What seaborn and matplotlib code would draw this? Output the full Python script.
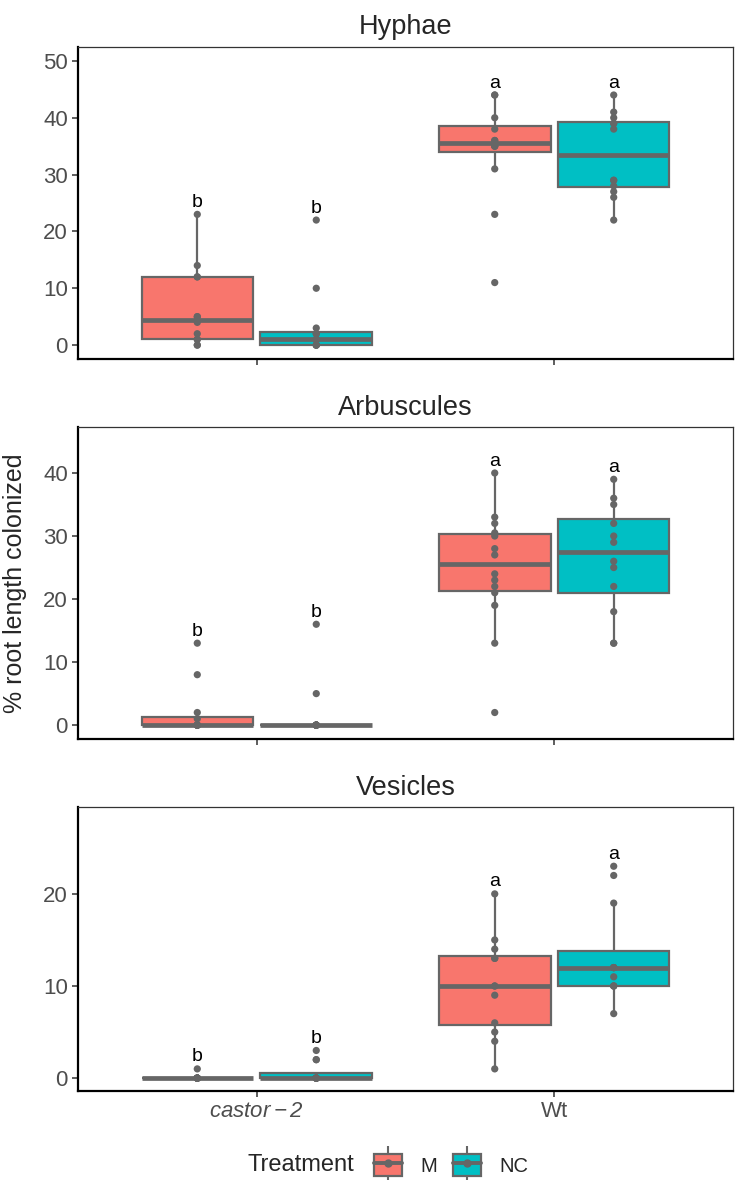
import matplotlib
matplotlib.use("Agg")
import matplotlib.pyplot as plt
import pandas as pd
import seaborn as sns
from matplotlib.lines import Line2D
from matplotlib.patches import Patch
from matplotlib.legend_handler import HandlerTuple

# ==========================================
# DATA (% root length colonized)
# ==========================================
GENOTYPES = ["castor-2", "Wt"]
TREATMENTS = ["M", "NC"]
PANELS = ["Hyphae", "Arbuscules", "Vesicles"]

hyphae_castor_M = [0, 0, 1, 1, 2, 4, 5, 5, 12, 12, 14, 23]
hyphae_castor_NC = [0, 0, 0, 0, 1, 1, 1, 2, 2, 3, 10, 22]
hyphae_wt_M = [11, 23, 31, 35, 35, 35, 36, 36, 38, 40, 44, 44]
hyphae_wt_NC = [22, 26, 27, 28, 29, 29, 38, 39, 39, 40, 41, 44]

arbus_castor_M = [0, 0, 0, 0, 0, 0, 0, 0, 1, 2, 8, 13]
arbus_castor_NC = [0, 0, 0, 0, 0, 0, 0, 0, 0, 0, 5, 16]
arbus_wt_M = [2, 13, 19, 21, 22, 23, 24, 27, 28, 30, 30.5, 32, 33, 40]
arbus_wt_NC = [13, 13, 18, 22, 25, 26, 29, 30, 32, 35, 36, 39]

vesic_castor_M = [0, 0, 0, 0, 0, 0, 0, 0, 0, 0, 0, 1]
vesic_castor_NC = [0, 0, 0, 0, 0, 0, 0, 0, 0, 2, 2, 3]
vesic_wt_M = [1, 4, 5, 6, 9, 10, 10, 13, 13, 14, 15, 20]
vesic_wt_NC = [7, 10, 10, 10, 11, 12, 12, 12, 12, 19, 22, 23]

# significance letters per genotype
LETTERS = {"castor-2": "b", "Wt": "a"}

Y_LIMITS = {"Hyphae": (-2.5, 52.5), "Arbuscules": (-2.25, 47.25), "Vesicles": (-1.4, 29.4)}
Y_TICKS = {"Hyphae": [0, 10, 20, 30, 40, 50], "Arbuscules": [0, 10, 20, 30, 40], "Vesicles": [0, 10, 20]}

groups = {
    ("Hyphae", "castor-2", "M"): hyphae_castor_M,
    ("Hyphae", "castor-2", "NC"): hyphae_castor_NC,
    ("Hyphae", "Wt", "M"): hyphae_wt_M,
    ("Hyphae", "Wt", "NC"): hyphae_wt_NC,
    ("Arbuscules", "castor-2", "M"): arbus_castor_M,
    ("Arbuscules", "castor-2", "NC"): arbus_castor_NC,
    ("Arbuscules", "Wt", "M"): arbus_wt_M,
    ("Arbuscules", "Wt", "NC"): arbus_wt_NC,
    ("Vesicles", "castor-2", "M"): vesic_castor_M,
    ("Vesicles", "castor-2", "NC"): vesic_castor_NC,
    ("Vesicles", "Wt", "M"): vesic_wt_M,
    ("Vesicles", "Wt", "NC"): vesic_wt_NC,
}

rows = []
for (panel, geno, treat), vals in groups.items():
    for v in vals:
        rows.append({"Structure": panel, "Genotype": geno, "Treatment": treat, "Value": v})
df = pd.DataFrame(rows)

# ==========================================
# STYLE
# ==========================================
sns.set_style("ticks")
plt.rcParams["font.family"] = ["Liberation Sans", "DejaVu Sans"]
plt.rcParams["mathtext.fontset"] = "custom"
plt.rcParams["mathtext.it"] = "Liberation Sans:italic"
plt.rcParams["mathtext.rm"] = "Liberation Sans:italic"

PALETTE = {"M": "#F8766D", "NC": "#00BFC4"}
GREY = "#666666"
TEXT_GREY = "#4D4D4D"

fig = plt.figure(figsize=(7.42, 11.88), dpi=100)

W, H = 742, 1188
left, right = 78.3, 732.7
panel_px = [(46.7, 359.3), (427.3, 739.3), (807.3, 1091.0)]

DODGE = {"M": -0.2, "NC": 0.2}

for i, panel in enumerate(PANELS):
    top, bottom = panel_px[i]
    ax = fig.add_axes([left / W, 1 - bottom / H, (right - left) / W, (bottom - top) / H])
    sub = df[df["Structure"] == panel]

    sns.boxplot(
        data=sub, x="Genotype", y="Value", hue="Treatment",
        order=GENOTYPES, hue_order=TREATMENTS, palette=PALETTE, saturation=1,
        width=0.8, gap=0.0625, dodge=True, linecolor=GREY, linewidth=1.6,
        showcaps=False, showfliers=False, whis=1.5,
        medianprops=dict(linewidth=3.4, color=GREY),
        ax=ax, legend=False,
    )
    sns.stripplot(
        data=sub, x="Genotype", y="Value", hue="Treatment",
        order=GENOTYPES, hue_order=TREATMENTS,
        palette={t: GREY for t in TREATMENTS},
        dodge=True, jitter=False, size=5.2, linewidth=0,
        ax=ax, legend=False, zorder=3,
    )

    # letters above the highest point of each group
    for gi, geno in enumerate(GENOTYPES):
        for treat in TREATMENTS:
            ymax = max(groups[(panel, geno, treat)])
            ax.annotate(
                LETTERS[geno], (gi + DODGE[treat], ymax),
                xytext=(0, 2.5), textcoords="offset points",
                ha="center", va="bottom", fontsize=14, color="black",
            )

    ax.set_xlim(-0.6, 1.6)
    ax.set_ylim(*Y_LIMITS[panel])
    ax.set_yticks(Y_TICKS[panel])
    ax.set_xlabel("")
    ax.set_ylabel("")
    ax.set_title(panel, fontsize=19.5, pad=9)

    for side in ["left", "bottom"]:
        ax.spines[side].set_color("black")
        ax.spines[side].set_linewidth(1.6)
    for side in ["top", "right"]:
        ax.spines[side].set_visible(True)
        ax.spines[side].set_color("#333333")
        ax.spines[side].set_linewidth(0.9)

    ax.tick_params(axis="both", direction="out", length=4, width=1.1,
                   color="#333333", labelcolor=TEXT_GREY, labelsize=16)
    if i < 2:
        ax.set_xticklabels([])
    else:
        ax.set_xticks([0, 1])
        ax.set_xticklabels([r"$castor-2$", "Wt"])

fig.text(15 / W, 1 - 583 / H, "% root length colonized", rotation=90,
         ha="center", va="center", fontsize=18)

# legend with box-glyph keys
handles = []
for t in TREATMENTS:
    whisk = Line2D([], [], color=GREY, marker="|", markersize=24,
                   markeredgewidth=1.5, linestyle="none")
    box = Patch(facecolor=PALETTE[t], edgecolor=GREY, linewidth=1.6)
    med = Line2D([], [], color=GREY, linewidth=2.8)
    dot = Line2D([], [], color=GREY, marker="o", markersize=5, linestyle="none")
    handles.append((whisk, box, med, dot))

fig.text(248 / W, 1 - 1165 / H, "Treatment", ha="left", va="center", fontsize=17)
fig.legend(
    handles, TREATMENTS,
    handler_map={tuple: HandlerTuple(ndivide=1, pad=0)},
    loc="center left", bbox_to_anchor=(374 / W, 1 - 1165 / H),
    ncol=2, frameon=False, fontsize=14.5, numpoints=1,
    handlelength=1.4, handleheight=1.25, handletextpad=0.9,
    columnspacing=0.8, borderpad=0, borderaxespad=0,
)

fig.savefig("out.png", dpi=100)
